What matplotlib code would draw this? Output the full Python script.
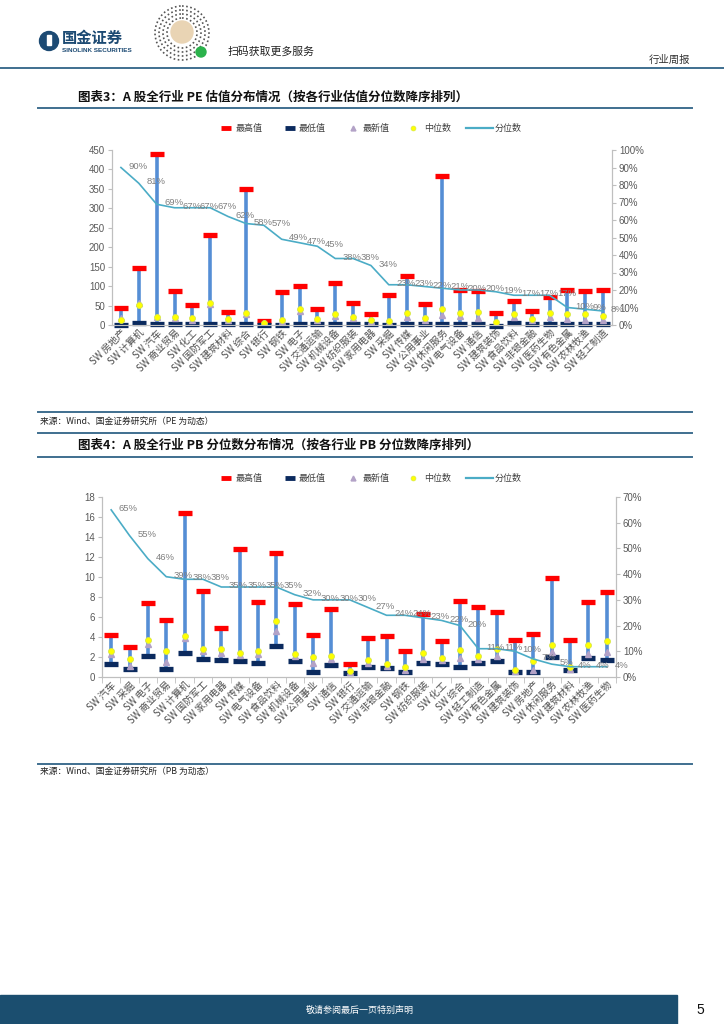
import matplotlib
matplotlib.use('Agg')
import matplotlib.pyplot as plt
import matplotlib.transforms as mt
from matplotlib.patches import Rectangle, Circle
import numpy as np

plt.rcParams['font.family'] = ['Noto Sans CJK SC', 'DejaVu Sans']

# ---------------- data: PE chart ----------------
pe_cats = ['SW 房地产', 'SW 计算机', 'SW 汽车', 'SW 商业贸易', 'SW 化工', 'SW 国防军工', 'SW 建筑材料',
           'SW 综合', 'SW 银行', 'SW 钢铁', 'SW 电子', 'SW 交通运输', 'SW 机械设备', 'SW 纺织服装',
           'SW 家用电器', 'SW 采掘', 'SW 传媒', 'SW 公用事业', 'SW 休闲服务', 'SW 电气设备', 'SW 通信',
           'SW 建筑装饰', 'SW 食品饮料', 'SW 非银金融', 'SW 医药生物', 'SW 有色金属', 'SW 农林牧渔', 'SW 轻工制造']
pe_max = [44, 146, 441, 87, 52, 231, 33, 349, 10, 85, 100, 40, 109, 56,
          28, 77, 125, 55, 382, 91, 88, 30, 63, 36, 71, 91, 88, 91]
pe_min = [-1, 4, 2, 2, 2, 3, 2, 2, -1, -1, 3, 2, 2, 2,
          2, 1, 2, 2, 3, 3, 3, -2, 5, 2, 2, 2, 2, 2]
pe_median = [12, 51, 20, 20, 17, 57, 15, 32, 5, 13, 40, 15, 28, 21,
             14, 11, 30, 18, 40, 30, 34, 9, 28, 15, 32, 29, 29, 23]
pe_latest = [18, 57, 21, 18, 14, 55, 12, 28, 4, 10, 36, 12, 24, 17,
             11, 8, 20, 14, 27, 22, 17, 6, 20, 12, 21, 15, 14, 13]
pe_pct = [90, 81, 69, 67, 67, 67, 62, 58, 57, 49, 47, 45, 38, 38,
          34, 23, 23, 22, 21, 20, 20, 19, 17, 17, 17, 10, 9, 8]
pe_yticks = [0, 50, 100, 150, 200, 250, 300, 350, 400, 450]
pe_rticks = [0, 10, 20, 30, 40, 50, 60, 70, 80, 90, 100]

# ---------------- data: PB chart ----------------
pb_cats = ['SW 汽车', 'SW 采掘', 'SW 电子', 'SW 商业贸易', 'SW 计算机', 'SW 国防军工', 'SW 家用电器',
           'SW 传媒', 'SW 电气设备', 'SW 食品饮料', 'SW 机械设备', 'SW 公用事业', 'SW 通信', 'SW 银行',
           'SW 交通运输', 'SW 非银金融', 'SW 钢铁', 'SW 纺织服装', 'SW 化工', 'SW 综合', 'SW 轻工制造',
           'SW 有色金属', 'SW 建筑装饰', 'SW 房地产', 'SW 休闲服务', 'SW 建筑材料', 'SW 农林牧渔', 'SW 医药生物']
pb_max = [4.17, 2.97, 7.37, 5.7, 16.4, 8.63, 4.93, 12.83, 7.53, 12.4, 7.27, 4.17, 6.77, 1.33,
          3.95, 4.1, 2.6, 6.27, 3.6, 7.63, 7.0, 6.53, 3.7, 4.27, 9.9, 3.7, 7.47, 8.47]
pb_min = [1.33, 0.8, 2.13, 0.8, 2.4, 1.8, 1.73, 1.63, 1.43, 3.07, 1.63, 0.5, 1.17, 0.4,
          1.0, 0.9, 0.53, 1.37, 1.3, 1.0, 1.37, 1.6, 0.5, 0.5, 2.0, 0.73, 1.9, 1.67]
pb_median = [2.6, 1.8, 3.67, 2.6, 4.1, 2.83, 2.83, 2.43, 2.6, 5.57, 2.27, 2.0, 2.07, 0.57,
             1.75, 1.33, 0.97, 2.37, 1.9, 2.67, 2.13, 2.8, 0.67, 1.57, 3.17, 1.0, 3.17, 3.6]
pb_latest = [2.35, 1.15, 3.33, 1.5, 3.9, 2.6, 2.45, 2.2, 2.3, 4.57, 2.1, 1.45, 1.8, 0.5,
             1.45, 1.15, 0.75, 1.85, 1.7, 1.95, 1.8, 2.15, 0.6, 0.75, 2.5, 0.8, 2.3, 2.5]
pb_pct = [65, 55, 46, 39, 38, 38, 35, 35, 35, 35, 32, 30, 30, 30,
          27, 24, 24, 23, 22, 20, 11, 11, 10, 7, 5, 4, 4, 4]
pb_yticks = [0, 2, 4, 6, 8, 10, 12, 14, 16, 18]
pb_rticks = [0, 10, 20, 30, 40, 50, 60, 70]

legend_labels = ['最高值', '最低值', '最新值', '中位数', '分位数']

C_MAX = '#ff0000'
C_MIN = '#0b2a5e'
C_BAR = '#558ed5'
C_LAT = '#b3a2c7'
C_MED = '#ffff00'
C_LINE = '#4bacc6'
C_RULE = '#3f6f8f'
NUMFONT = ['Liberation Sans', 'DejaVu Sans']

W, H = 724, 1024
fig = plt.figure(figsize=(W / 100, H / 100), dpi=100)


def rect(x0, y0, x1, y1):
    return [x0 / W, 1 - y1 / H, (x1 - x0) / W, (y1 - y0) / H]


bg = fig.add_axes([0, 0, 1, 1])
bg.set_xlim(0, W)
bg.set_ylim(H, 0)
bg.axis('off')

# ---------------- header ----------------
bg.add_patch(Circle((49, 41), 9.5, color='#1c4a73'))
bg.add_patch(Rectangle((47, 35), 4, 10, color='white'))
bg.text(62, 38, '国金证券', fontsize=11, fontweight='bold', color='#1c4a73', va='center', ha='left')
bg.text(62, 50.5, 'SINOLINK SECURITIES', fontsize=4.6, fontweight='bold', color='#1c4a73',
        va='center', ha='left', family=NUMFONT)
for r_ in [27, 23, 19, 15]:
    bg.add_patch(Circle((182, 33), r_, fill=False, ec='#555555', lw=1.2, ls=(0, (1, 1.5))))
bg.add_patch(Circle((182, 32), 11, color='#e9d4b4'))
bg.add_patch(Circle((201, 52), 5, color='#2bb24c'))
bg.text(228, 52, '扫码获取更多服务', fontsize=7.8, color='#222222', va='center', ha='left')
bg.text(690, 60, '行业周报', fontsize=7.5, color='#333333', va='center', ha='right')
bg.plot([0, W], [68, 68], color=C_RULE, lw=1.4)

# ---------------- titles & rules ----------------
bg.text(78, 97, '图表3：A 股全行业 PE 估值分布情况（按各行业估值分位数降序排列）', fontsize=9,
        fontweight='bold', color='#111111', va='center', ha='left')
bg.plot([38, 692], [108, 108], color=C_RULE, lw=1.4)
bg.plot([38, 692], [412, 412], color=C_RULE, lw=1.4)
bg.text(40, 421, '来源：Wind、国金证券研究所（PE 为动态）', fontsize=6.3, color='#222222', va='center', ha='left')
bg.plot([38, 692], [433, 433], color=C_RULE, lw=1.4)
bg.text(78, 445, '图表4：A 股全行业 PB 分位数分布情况（按各行业 PB 分位数降序排列）', fontsize=9,
        fontweight='bold', color='#111111', va='center', ha='left')
bg.plot([38, 692], [457, 457], color=C_RULE, lw=1.4)
bg.plot([38, 692], [764, 764], color=C_RULE, lw=1.4)
bg.text(40, 771, '来源：Wind、国金证券研究所（PB 为动态）', fontsize=6.3, color='#222222', va='center', ha='left')

# ---------------- footer ----------------
bg.add_patch(Rectangle((0, 995), 677, 29, color='#1b4e6f'))
bg.text(360, 1010, '敬请参阅最后一页特别声明', fontsize=6.5, color='white', va='center', ha='center')
bg.text(700, 1010, '5', fontsize=10, color='#111111', va='center', ha='center', family=NUMFONT)


def legend(y):
    xs = [226, 290, 353, 413]
    bg.plot([xs[0]], [y], marker='_', ms=7, mew=3.5, color=C_MAX)
    bg.plot([xs[1]], [y], marker='_', ms=7, mew=3.5, color=C_MIN)
    bg.plot([xs[2]], [y], marker='^', ms=3.5, color=C_LAT, ls='none')
    bg.plot([xs[3]], [y], marker='o', ms=3.5, mfc=C_MED, mec='#d8e84a', mew=0.5, ls='none')
    bg.plot([466, 493], [y, y], color=C_LINE, lw=1.6)
    tx = [236, 299, 363, 424, 495]
    for t, lab in zip(tx, legend_labels):
        bg.text(t, y, lab, fontsize=6.5, color='#404040', va='center', ha='left')


def chart(box, cats, vmax, vmin, vmed, vlat, pct, ylim, yticks, rticks, boundary_ticks, lab_dx):
    ax = fig.add_axes(rect(*box))
    ax.set_facecolor('none')
    x = np.arange(len(cats))
    ax.vlines(x, vmin, vmax, color=C_BAR, lw=2.6, zorder=2)
    ax.plot(x, vmax, ls='none', marker='_', ms=9.5, mew=3.8, color=C_MAX, zorder=3, clip_on=False)
    ax.plot(x, vmin, ls='none', marker='_', ms=9.5, mew=3.8, color=C_MIN, zorder=3, clip_on=False)
    ax.plot(x, vlat, ls='none', marker='^', ms=4.2, color=C_LAT, zorder=4)
    ax.plot(x, vmed, ls='none', marker='o', ms=4.3, mfc=C_MED, mec='#d6e64c', mew=0.6, zorder=5)
    ax.set_xlim(-0.5, len(cats) - 0.5)
    ax.set_ylim(*ylim)
    ax.set_yticks(yticks)
    ax.set_yticklabels([str(v) for v in yticks], family=NUMFONT, fontsize=7, color='#595959')
    ax.set_xticks(x)
    ax.set_xticklabels(cats, rotation=45, ha='right', va='top', rotation_mode='anchor',
                       fontsize=7, color='#505050')
    off = mt.ScaledTranslation(lab_dx / 100, -2 / 100, fig.dpi_scale_trans)
    for lab in ax.get_xticklabels():
        lab.set_transform(lab.get_transform() + off)
    ax.tick_params(axis='x', length=0, pad=2)
    ax.tick_params(axis='y', length=3, color='#bfbfbf', pad=2)
    if boundary_ticks:
        ax.set_xticks(np.arange(-0.5, len(cats) + 0.5, 1), minor=True)
        ax.tick_params(axis='x', which='minor', length=4, color='#bfbfbf', direction='out')
    ax.spines['top'].set_visible(False)
    for s in ['left', 'bottom', 'right']:
        ax.spines[s].set_color('#bfbfbf')
        ax.spines[s].set_linewidth(0.8)

    ax2 = ax.twinx()
    ax2.set_facecolor('none')
    pv = np.array(pct) / 100.0
    ax2.plot(x, pv, color=C_LINE, lw=1.2, zorder=6)
    for xi, p in zip(x, pct):
        ax2.annotate(f'{p}%', (xi, p / 100.0), xytext=(5.5, 1), textcoords='offset points',
                     ha='left', va='center', fontsize=6.8, color='#7f7f7f', family=NUMFONT, zorder=7)
    ax2.set_ylim(0, rticks[-1] / 100.0)
    ax2.set_yticks([r / 100.0 for r in rticks])
    ax2.set_yticklabels([f'{r}%' for r in rticks], family=NUMFONT, fontsize=7, color='#595959')
    ax2.tick_params(axis='y', length=3, color='#bfbfbf', pad=2)
    ax2.spines['top'].set_visible(False)
    for s in ['left', 'bottom', 'right']:
        ax2.spines[s].set_color('#bfbfbf')
        ax2.spines[s].set_linewidth(0.8)
    return ax, ax2


legend(128)
chart((112, 150, 612, 325), pe_cats, pe_max, pe_min, pe_median, pe_latest, pe_pct,
      (0, 450), pe_yticks, pe_rticks, False, -6)

legend(478)
chart((102, 497, 616, 677), pb_cats, pb_max, pb_min, pb_median, pb_latest, pb_pct,
      (0, 18), pb_yticks, pb_rticks, True, 0)

fig.savefig('out.png', dpi=100)
